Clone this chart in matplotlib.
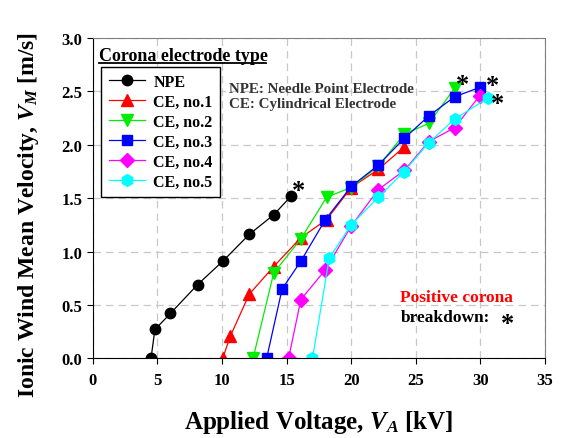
import numpy as np
import matplotlib
matplotlib.use('Agg')
import matplotlib.pyplot as plt
from matplotlib.lines import Line2D

plt.rcParams['font.family'] = ['Liberation Serif', 'DejaVu Serif']
plt.rcParams['font.weight'] = 'bold'
plt.rcParams['mathtext.fontset'] = 'custom'
plt.rcParams['mathtext.it'] = 'Liberation Serif:italic:bold'
plt.rcParams['mathtext.rm'] = 'Liberation Serif:bold'

# data
npe_v = [4.5, 4.8, 6.0, 8.1, 10.1, 12.1, 14.0, 15.35]
npe_m = [0.0, 0.27, 0.42, 0.69, 0.915, 1.16, 1.345, 1.52]

ce1_v = [10.05, 10.65, 12.1, 14.0, 16.1, 18.1, 20.0, 22.1, 24.1]
ce1_m = [0.0, 0.21, 0.60, 0.86, 1.13, 1.30, 1.60, 1.77, 1.98]

ce2_v = [12.4, 14.0, 16.1, 18.1, 20.0, 22.1, 24.1, 26.0, 28.0]
ce2_m = [0.0, 0.80, 1.12, 1.51, 1.60, 1.80, 2.10, 2.20, 2.53]

ce3_v = [13.45, 14.65, 16.1, 18.0, 20.0, 22.1, 24.1, 26.0, 28.0, 30.0]
ce3_m = [0.0, 0.65, 0.91, 1.30, 1.61, 1.81, 2.06, 2.27, 2.45, 2.54]

ce4_v = [15.15, 16.1, 18.0, 20.0, 22.1, 24.1, 26.0, 28.0, 29.95]
ce4_m = [0.0, 0.55, 0.83, 1.24, 1.58, 1.76, 2.03, 2.16, 2.46]

ce5_v = [17.0, 18.3, 20.0, 22.1, 24.1, 26.0, 28.0, 30.6]
ce5_m = [0.0, 0.94, 1.25, 1.51, 1.75, 2.02, 2.24, 2.44]

labels = ['NPE', 'CE, no.1', 'CE, no.2', 'CE, no.3', 'CE, no.4', 'CE, no.5']
xs = [npe_v, ce1_v, ce2_v, ce3_v, ce4_v, ce5_v]
ys = [npe_m, ce1_m, ce2_m, ce3_m, ce4_m, ce5_m]
colors = ['black', '#ff0000', '#00ee00', '#0000ff', '#ff00ff', '#00ffff']
markers = ['o', '^', 'v', 's', 'D', 'h']
msizes = [7.5, 8, 8, 7.5, 7, 8.5]

# series that end in breakdown (index, offset in points)
breakdown = [(0, (5, 4)), (2, (6, 3)), (3, (9, 1)), (5, (7, -4))]

fig = plt.figure(figsize=(5.63, 4.39), dpi=100)
ax = fig.add_axes([0.165, 0.1815, 0.803, 0.7295])

for i in range(len(xs)):
    ax.plot(xs[i], ys[i], color=colors[i], marker=markers[i], markersize=msizes[i],
            markeredgecolor=colors[i], linewidth=0.9, label=labels[i])

for i, off in breakdown:
    ax.annotate('*', xy=(xs[i][-1], ys[i][-1]), xytext=off, textcoords='offset points',
                ha='center', va='center', fontsize=19, color='black')

ax.set_xlim(0, 35)
ax.set_ylim(0, 3.0)
ax.set_xticks(np.arange(0, 36, 5))
ax.set_yticks(np.arange(0, 3.01, 0.5))
ax.set_yticklabels(['%.1f' % v for v in np.arange(0, 3.01, 0.5)])
ax.tick_params(direction='out', length=4, labelsize=12)
ax.tick_params(axis='x', pad=6)
for lab in ax.get_xticklabels() + ax.get_yticklabels():
    lab.set_fontweight('bold')
ax.grid(True, linestyle=(0, (6, 4)), color='#c8c8c8', linewidth=0.9)
ax.set_axisbelow(True)
for s in ['top', 'right']:
    ax.spines[s].set_color('#808080')

ax.set_xlabel('Applied Voltage, $V_A$ [kV]', fontsize=18, fontweight='bold', labelpad=14)
ax.set_ylabel('Ionic Wind Mean Velocity, $V_M$ [m/s]', fontsize=17, fontweight='bold')
ax.yaxis.set_label_coords(-0.115, 0.45)

leg = ax.legend(loc='upper left', bbox_to_anchor=(0.019, 0.910), borderaxespad=0,
                fancybox=False, edgecolor='black', framealpha=1, handlelength=2.3,
                prop={'size': 11.5, 'weight': 'bold'}, labelspacing=0.25, borderpad=0.45,
                handletextpad=0.5)
leg.get_frame().set_linewidth(1.0)
leg.set_zorder(5)

ax.text(0.013, 0.947, 'Corona electrode type', transform=ax.transAxes, fontsize=13,
        fontweight='bold', va='center', ha='left')
ax.add_line(Line2D([0.013, 0.383], [0.923, 0.923], transform=ax.transAxes,
                   color='black', linewidth=1.3))

ax.text(0.300, 0.843, 'NPE: Needle Point Electrode', transform=ax.transAxes,
        fontsize=10.8, fontweight='bold', color='#333333', va='center', zorder=6)
ax.text(0.300, 0.796, 'CE: Cylindrical Electrode', transform=ax.transAxes,
        fontsize=10.8, fontweight='bold', color='#333333', va='center', zorder=6)

ax.text(0.680, 0.193, 'Positive corona', transform=ax.transAxes, fontsize=12.5,
        fontweight='bold', color='#ff0000', va='center')
ax.text(0.680, 0.128, 'breakdown:', transform=ax.transAxes, fontsize=12.5,
        fontweight='bold', color='black', va='center')
ax.text(0.918, 0.110, '*', transform=ax.transAxes, fontsize=19,
        fontweight='bold', color='black', va='center', ha='center')

fig.savefig('out.png', dpi=100)
